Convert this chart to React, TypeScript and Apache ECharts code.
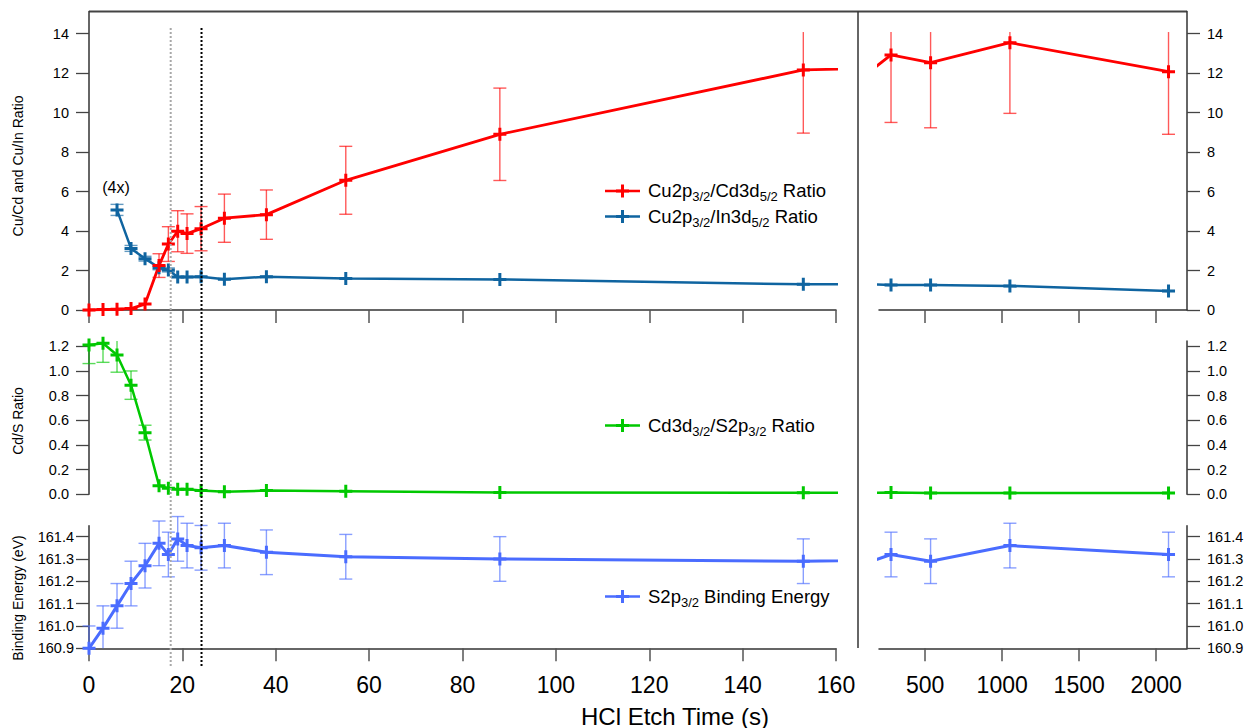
import React, { useEffect, useRef } from 'react';
import * as echarts from 'echarts';

// ---------------- data ----------------
const etchTime = [0, 3, 6, 9, 12, 15, 17, 19, 21, 24, 29, 38, 55, 88, 153, 278, 535, 1050, 2080];
const cuCdRatio = [0, 0.02, 0.04, 0.07, 0.3, 2.25, 3.34, 3.99, 3.87, 4.12, 4.65, 4.83, 6.57, 8.9, 12.16, 12.92, 12.53, 13.54, 12.07];
const cuCdErr = [0, 0, 0, 0, 0, 0.6, 0.88, 1.04, 1.0, 1.12, 1.22, 1.25, 1.72, 2.34, 3.2, 3.42, 3.3, 3.58, 3.17];

const cuInTime = [6, 9, 12, 15, 17, 19, 21, 24, 29, 38, 55, 88, 153, 278, 535, 1050, 2080];
const cuInRatio = [5.07, 3.12, 2.6, 2.14, 2.03, 1.67, 1.67, 1.68, 1.56, 1.69, 1.59, 1.55, 1.3, 1.27, 1.27, 1.22, 0.96];
const cuInErr = [0.28, 0.15, 0.12, 0.1, 0.1, 0, 0, 0, 0, 0, 0, 0, 0, 0, 0, 0, 0];

const cdSRatio = [1.21, 1.225, 1.13, 0.885, 0.5, 0.07, 0.05, 0.04, 0.04, 0.03, 0.02, 0.03, 0.025, 0.015, 0.012, 0.015, 0.01, 0.01, 0.01];
const cdSErr = [0.15, 0.155, 0.14, 0.115, 0.06, 0, 0, 0, 0, 0, 0, 0, 0, 0, 0, 0, 0, 0, 0];

const s2pBE = [160.9, 160.99, 161.09, 161.19, 161.27, 161.37, 161.32, 161.39, 161.36, 161.35, 161.36, 161.33, 161.31, 161.3, 161.29, 161.32, 161.29, 161.36, 161.32];
const s2pErr = [0.1, 0.1, 0.1, 0.1, 0.1, 0.1, 0.1, 0.1, 0.1, 0.1, 0.1, 0.1, 0.1, 0.1, 0.1, 0.1, 0.1, 0.1, 0.1];

const rightTimeTicks = [500, 1000, 1500, 2000];
const ratioTicks = [0, 2, 4, 6, 8, 10, 12, 14];
const cdSTicks = [0, 0.2, 0.4, 0.6, 0.8, 1.0, 1.2];
const beTicks = [160.9, 161.0, 161.1, 161.2, 161.3, 161.4];

const markerTimes = [17.5, 24.1];

// ---------------- styles ----------------
const FONT = '"Liberation Sans", Arial, Helvetica, sans-serif';
const PLUS = 'path://M5 0h3v5h5v3h-5v5h-3v-5h-5v-3h5z';
const RED = '#ff0000';
const TEAL = '#0f64a0';
const GREEN = '#00c800';
const BLUE = '#4a6cff';
const AXIS = '#333333';

const COLS = [
  { left: 89, width: 747, min: 0, max: 160 },
  { left: 879, width: 308, min: 200, max: 2200 },
];
const ROWS = [
  { top: 11.5, height: 298.5, min: 0, max: 15.12, ticks: ratioTicks, fmt: (v: number) => String(v), clipHi: 14.08, clipLo: 0 },
  { top: 341, height: 153.3, min: 0, max: 1.243, ticks: cdSTicks, fmt: (v: number) => v.toFixed(1), clipHi: 1.243, clipLo: 0 },
  { top: 525.7, height: 122.6, min: 160.9, max: 161.449, ticks: beTicks, fmt: (v: number) => v.toFixed(1), clipHi: 161.5, clipLo: 160.9 },
];

function lineSeries(xs: number[], ys: number[], color: string, width: number, idx: number) {
  return {
    type: 'line',
    xAxisIndex: idx,
    yAxisIndex: idx,
    data: xs.map((x, i) => [x, ys[i]]),
    symbol: PLUS,
    symbolSize: 13,
    showAllSymbol: true,
    clip: true,
    z: 4,
    lineStyle: { color, width },
    itemStyle: { color, opacity: 1 },
  };
}

function errSeries(xs: number[], ys: number[], es: number[], color: string, idx: number, col: any, row: any) {
  const data: number[][] = [];
  xs.forEach((x, i) => {
    if (es[i] > 0 && x >= col.min && x <= col.max) data.push([x, ys[i] - es[i], ys[i] + es[i]]);
  });
  return {
    type: 'custom',
    xAxisIndex: idx,
    yAxisIndex: idx,
    data,
    z: 3,
    silent: true,
    renderItem: (params: any, api: any) => {
      const x = api.value(0);
      const lo = api.value(1);
      const hi = api.value(2);
      const l = Math.max(lo, row.clipLo);
      const h = Math.min(hi, row.clipHi);
      const p1 = api.coord([x, l]);
      const p2 = api.coord([x, h]);
      const st = { stroke: color, lineWidth: 1.4, opacity: 0.65 };
      const children: any[] = [
        { type: 'line', shape: { x1: p1[0], y1: p1[1], x2: p2[0], y2: p2[1] }, style: st },
      ];
      if (lo >= row.clipLo) children.push({ type: 'line', shape: { x1: p1[0] - 6.5, y1: p1[1], x2: p1[0] + 6.5, y2: p1[1] }, style: st });
      if (hi <= row.clipHi) children.push({ type: 'line', shape: { x1: p2[0] - 6.5, y1: p2[1], x2: p2[0] + 6.5, y2: p2[1] }, style: st });
      return { type: 'group', children };
    },
  };
}

function legendItem(y: number, color: string, lw: number, text: string) {
  return [
    { type: 'line', shape: { x1: 605, y1: y, x2: 640, y2: y }, style: { stroke: color, lineWidth: lw }, z: 20 },
    { type: 'rect', shape: { x: 621, y: y - 6.5, width: 3, height: 13 }, style: { fill: color }, z: 20 },
    { type: 'rect', shape: { x: 616, y: y - 1.5, width: 13, height: 3 }, style: { fill: color }, z: 20 },
    {
      type: 'text',
      x: 648,
      y: y + 1,
      z: 20,
      style: {
        text,
        align: 'left',
        verticalAlign: 'middle',
        rich: {
          m: { fontSize: 18.5, fontFamily: FONT, lineHeight: 22, verticalAlign: 'top', fill: '#000' },
          s: { fontSize: 13, fontFamily: FONT, lineHeight: 12, verticalAlign: 'bottom', fill: '#000' },
        },
      },
    },
  ];
}

function vText(x: number, y: number, text: string) {
  return {
    type: 'text',
    x,
    y,
    rotation: Math.PI / 2,
    style: { text, fontSize: 14, fontFamily: FONT, fill: '#000', align: 'center', verticalAlign: 'middle' },
  };
}

export default function App() {
  const ref = useRef<HTMLDivElement>(null);
  useEffect(() => {
    if (!ref.current) return;
    const chart = echarts.init(ref.current, undefined, { renderer: 'svg' });

    const grids: any[] = [];
    const xAxes: any[] = [];
    const yAxes: any[] = [];
    ROWS.forEach((row, r) => {
      COLS.forEach((col, c) => {
        const idx = r * 2 + c;
        grids.push({ left: col.left, top: row.top, width: col.width, height: row.height, containLabel: false });
        const xa: any = {
          type: 'value',
          gridIndex: idx,
          min: col.min,
          max: col.max,
          show: r !== 1,
          axisLine: { show: true, onZero: false, lineStyle: { color: AXIS, width: 1.5 } },
          axisTick: { show: true, length: 13, lineStyle: { color: '#555', width: 1.5 } },
          axisLabel: {
            show: r === 2,
            fontSize: 23,
            fontFamily: FONT,
            color: '#000',
            margin: 25,
            formatter: (v: number) => String(v),
          },
          splitLine: { show: false },
        };
        if (c === 0) {
          xa.interval = 20;
        } else {
          xa.axisTick.customValues = rightTimeTicks;
          xa.axisLabel.customValues = rightTimeTicks;
        }
        xAxes.push(xa);
        yAxes.push({
          type: 'value',
          gridIndex: idx,
          position: c === 0 ? 'left' : 'right',
          min: row.min,
          max: row.max,
          axisLine: { show: true, onZero: false, lineStyle: { color: AXIS, width: 1.5 } },
          axisTick: { show: true, length: 13, customValues: row.ticks, lineStyle: { color: '#444', width: 1.3 } },
          axisLabel: {
            customValues: row.ticks,
            formatter: row.fmt,
            fontSize: 14.5,
            fontFamily: FONT,
            color: '#000',
            margin: c === 0 && r === 2 ? 15 : 20,
          },
          splitLine: { show: false },
        });
      });
    });

    const series: any[] = [];
    COLS.forEach((col, c) => {
      const i0 = c;
      const i1 = 2 + c;
      const i2 = 4 + c;
      series.push(errSeries(etchTime, cuCdRatio, cuCdErr, RED, i0, col, ROWS[0]));
      series.push(errSeries(cuInTime, cuInRatio, cuInErr, TEAL, i0, col, ROWS[0]));
      series.push(lineSeries(cuInTime, cuInRatio, TEAL, 2.5, i0));
      series.push(lineSeries(etchTime, cuCdRatio, RED, 2.8, i0));
      series.push(errSeries(etchTime, cdSRatio, cdSErr, GREEN, i1, col, ROWS[1]));
      series.push(lineSeries(etchTime, cdSRatio, GREEN, 2.5, i1));
      series.push(errSeries(etchTime, s2pBE, s2pErr, BLUE, i2, col, ROWS[2]));
      series.push(lineSeries(etchTime, s2pBE, BLUE, 3, i2));
    });

    chart.setOption({
      animation: false,
      backgroundColor: '#ffffff',
      grid: grids,
      xAxis: xAxes,
      yAxis: yAxes,
      series,
    });

    const vlines = markerTimes.map((t, i) => {
      const px = chart.convertToPixel({ xAxisIndex: 0 } as any, t) as unknown as number;
      return {
        type: 'line',
        z: 30,
        shape: { x1: px, y1: 28, x2: px, y2: 668 },
        style: { stroke: i === 0 ? '#a8a8a8' : '#000000', lineWidth: 2, lineDash: [2, 2] },
      };
    });

    const graphic: any[] = [
      { type: 'line', shape: { x1: 89, y1: 11.5, x2: 1187, y2: 11.5 }, style: { stroke: '#444', lineWidth: 2 } },
      { type: 'line', shape: { x1: 858, y1: 11.5, x2: 858, y2: 648 }, style: { stroke: '#333', lineWidth: 1.5 } },
      ...vlines,
      ...legendItem(191, RED, 2.5, '{m|Cu2p}{s|3/2}{m|/Cd3d}{s|5/2}{m| Ratio}'),
      ...legendItem(216.5, TEAL, 2.5, '{m|Cu2p}{s|3/2}{m|/In3d}{s|5/2}{m| Ratio}'),
      ...legendItem(425.5, GREEN, 2.5, '{m|Cd3d}{s|3/2}{m|/S2p}{s|3/2}{m| Ratio}'),
      ...legendItem(596.5, BLUE, 2.5, '{m|S2p}{s|3/2}{m| Binding Energy}'),
      vText(18, 166, 'Cu/Cd and Cu/In Ratio'),
      vText(18, 421, 'Cd/S Ratio'),
      vText(18, 598, 'Binding Energy (eV)'),
      {
        type: 'text',
        x: 116,
        y: 187,
        style: { text: '(4x)', fontSize: 16, fontFamily: FONT, fill: '#000', align: 'center', verticalAlign: 'middle' },
      },
      {
        type: 'text',
        x: 675,
        y: 716,
        style: { text: 'HCl Etch Time (s)', fontSize: 24, fontFamily: FONT, fill: '#000', align: 'center', verticalAlign: 'middle' },
      },
    ];
    chart.setOption({ graphic });

    return () => chart.dispose();
  }, []);

  return <div ref={ref} style={{ position: 'fixed', left: 0, top: 0, width: 1247, height: 728 }} />;
}
